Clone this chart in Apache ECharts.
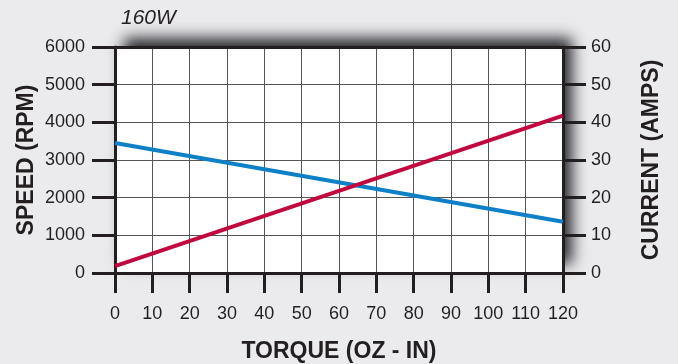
<!DOCTYPE html>
<html>
<head>
<meta charset="utf-8">
<script src="https://cdn.jsdelivr.net/npm/echarts@6/dist/echarts.min.js"></script>
<style>
  html, body { margin: 0; padding: 0; background: #ebebee; }
  #chart { width: 678px; height: 364px; }
</style>
</head>
<body>
<div id="chart"></div>
<script>
// Motor performance curve, 160W
const title = '160W';
const torqueTicks = [0, 10, 20, 30, 40, 50, 60, 70, 80, 90, 100, 110, 120];
// speed (RPM) vs torque (oz-in)
const speedTorque = [0, 120];
const speedRpm = [3450, 1360];
// current (A) vs torque (oz-in)
const currentTorque = [0, 120];
const currentAmps = [1.8, 41.8];

const labelFont = 'Liberation Sans, Arial, sans-serif';
const nameFont = 'Liberation Sans, Arial, sans-serif';
const ink = '#231f20';

const chart = echarts.init(document.getElementById('chart'));
chart.setOption({
  backgroundColor: '#ebebee',
  animation: false,
  title: {
    text: title,
    left: 116, top: 3,
    textStyle: { fontFamily: labelFont, fontStyle: 'italic', fontWeight: 'normal', fontSize: 21, color: ink }
  },
  grid: {
    left: 115, right: 115, top: 47, bottom: 91,
    containLabel: false,
    outerBoundsMode: 'none',
    show: true,
    backgroundColor: '#ffffff',
    borderWidth: 0,
    shadowColor: 'rgba(30,30,35,0.95)',
    shadowBlur: 14,
    shadowOffsetX: 9,
    shadowOffsetY: -9
  },
  xAxis: [
    {
      type: 'value', min: 0, max: 120, interval: 10, position: 'bottom',
      name: 'TORQUE (OZ - IN)', nameLocation: 'middle', nameGap: 67,
      nameTextStyle: { fontFamily: nameFont, fontWeight: 'bold', fontSize: 23, color: ink },
      axisLine: { show: true, onZero: false, lineStyle: { color: ink, width: 3 } },
      axisTick: { show: true, length: 20, lineStyle: { color: ink, width: 3 } },
      axisLabel: { margin: 32, fontFamily: labelFont, fontSize: 18, color: ink,
        formatter: v => torqueTicks.includes(v) ? String(v) : '' },
      splitLine: { show: true, lineStyle: { color: '#555555', width: 1 } }
    },
    {
      // top frame edge
      type: 'value', min: 0, max: 120, position: 'top',
      axisLine: { show: true, onZero: false, lineStyle: { color: ink, width: 3 } },
      axisTick: { show: false }, axisLabel: { show: false }, splitLine: { show: false }
    }
  ],
  yAxis: [
    {
      type: 'value', min: 0, max: 6000, interval: 1000, position: 'left',
      name: 'SPEED (RPM)', nameLocation: 'middle', nameGap: 77, nameRotate: 90,
      nameMoveOverlap: false,
      nameTextStyle: { fontFamily: nameFont, fontWeight: 'bold', fontSize: 23, color: ink },
      axisLine: { show: true, onZero: false, lineStyle: { color: ink, width: 3 } },
      axisTick: { show: true, length: 23, lineStyle: { color: ink, width: 3 } },
      axisLabel: { margin: 30, fontFamily: labelFont, fontSize: 18, color: ink, formatter: v => String(v) },
      splitLine: { show: true, lineStyle: { color: '#555555', width: 1 } }
    },
    {
      type: 'value', min: 0, max: 60, interval: 10, position: 'right',
      name: 'CURRENT (AMPS)', nameLocation: 'middle', nameGap: 77, nameRotate: 90,
      nameMoveOverlap: false,
      nameTextStyle: { fontFamily: nameFont, fontWeight: 'bold', fontSize: 23, color: ink },
      axisLine: { show: true, onZero: false, lineStyle: { color: ink, width: 3 } },
      axisTick: { show: true, length: 23, lineStyle: { color: ink, width: 3 } },
      axisLabel: { margin: 28, fontFamily: labelFont, fontSize: 18, color: ink, formatter: v => String(v) },
      splitLine: { show: false }
    }
  ],
  series: [
    {
      name: 'Speed', type: 'line', yAxisIndex: 0, symbol: 'none',
      lineStyle: { color: '#0e80c8', width: 4 },
      data: speedTorque.map((t, i) => [t, speedRpm[i]])
    },
    {
      name: 'Current', type: 'line', yAxisIndex: 1, symbol: 'none',
      lineStyle: { color: '#c2093f', width: 4 },
      data: currentTorque.map((t, i) => [t, currentAmps[i]])
    }
  ]
});
</script>
</body>
</html>
